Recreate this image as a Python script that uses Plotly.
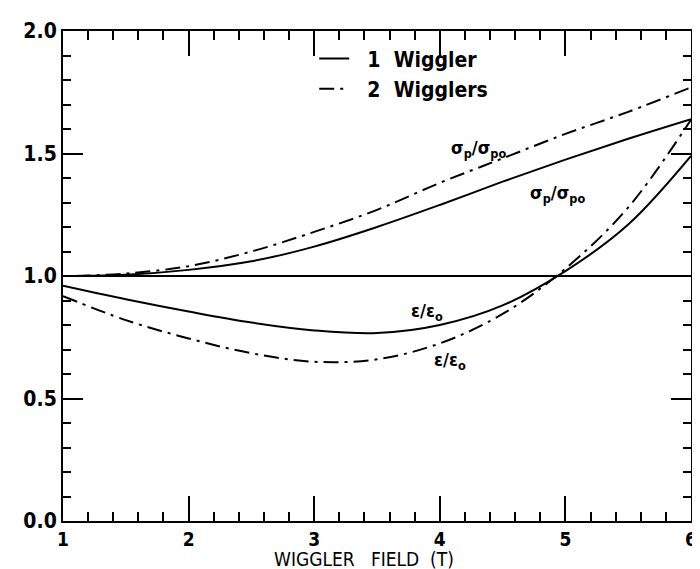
import plotly.graph_objects as go

# 1 wiggler, momentum spread ratio
x_sp1 = [1.1, 1.5, 2.0, 2.5, 3.0, 3.5, 4.0, 4.5, 5.0, 5.5, 6.0]
y_sp1 = [1.0, 1.005, 1.025, 1.06, 1.12, 1.20, 1.29, 1.385, 1.475, 1.56, 1.64]
# 2 wigglers, momentum spread ratio
x_sp2 = [1.1, 1.5, 2.0, 2.5, 3.0, 3.5, 4.0, 4.5, 5.0, 5.5, 6.0]
y_sp2 = [1.0, 1.01, 1.04, 1.10, 1.18, 1.27, 1.38, 1.48, 1.58, 1.67, 1.77]
# 1 wiggler, emittance ratio
x_e1 = [1.0, 1.5, 2.0, 2.5, 3.0, 3.5, 4.0, 4.5, 5.0, 5.5, 6.0]
y_e1 = [0.96, 0.905, 0.855, 0.81, 0.778, 0.767, 0.80, 0.88, 1.02, 1.21, 1.49]
# 2 wigglers, emittance ratio
x_e2 = [1.0, 1.5, 2.0, 2.5, 3.0, 3.5, 4.0, 4.5, 5.0, 5.5, 6.0]
y_e2 = [0.918, 0.82, 0.745, 0.685, 0.65, 0.66, 0.725, 0.845, 1.03, 1.28, 1.638]
# reference line
x_ref = [1.0, 6.0]
y_ref = [1.0, 1.0]

FONT = "DejaVu Sans Condensed, Liberation Sans Narrow, sans-serif"
DASHDOT = "15px,6px,3px,6px"

fig = go.Figure()
fig.add_trace(go.Scatter(x=x_ref, y=y_ref, mode="lines",
                         line=dict(color="black", width=2), showlegend=False))
fig.add_trace(go.Scatter(x=x_sp1, y=y_sp1, mode="lines", name="  1  Wiggler",
                         line=dict(color="black", width=2, shape="spline")))
fig.add_trace(go.Scatter(x=x_sp2, y=y_sp2, mode="lines", name="  2  Wigglers",
                         line=dict(color="black", width=2, dash=DASHDOT, shape="spline")))
fig.add_trace(go.Scatter(x=x_e1, y=y_e1, mode="lines", showlegend=False,
                         line=dict(color="black", width=2, shape="spline")))
fig.add_trace(go.Scatter(x=x_e2, y=y_e2, mode="lines", showlegend=False,
                         line=dict(color="black", width=2, dash=DASHDOT, shape="spline")))
# invisible trace on overlay axes for minor ticks
fig.add_trace(go.Scatter(x=x_ref, y=y_ref, xaxis="x2", yaxis="y2", mode="lines",
                         line=dict(color="rgba(0,0,0,0)"), showlegend=False, hoverinfo="skip"))

ann_font = dict(family=FONT, size=18, color="black", weight="bold")
fig.add_annotation(x=4.31, y=1.52, text="σ<sub>p</sub>/σ<sub>po</sub>", showarrow=False, font=ann_font)
fig.add_annotation(x=4.94, y=1.335, text="σ<sub>p</sub>/σ<sub>po</sub>", showarrow=False, font=ann_font)
fig.add_annotation(x=3.90, y=0.855, text="ε/ε<sub>o</sub>", showarrow=False, font=ann_font)
fig.add_annotation(x=4.08, y=0.652, text="ε/ε<sub>o</sub>", showarrow=False, font=ann_font)
fig.add_annotation(x=0.48, y=0, xref="paper", yref="paper", yshift=-51, yanchor="bottom",
                   text="WIGGLER   FIELD  (T)", showarrow=False,
                   font=dict(family=FONT, size=19, color="black"))

fig.update_layout(
    width=700, height=569,
    margin=dict(l=55, r=11, t=21, b=56),
    plot_bgcolor="white", paper_bgcolor="white",
    font=dict(family=FONT, color="black"),
    legend=dict(x=0.40, y=0.985, xanchor="left", yanchor="top",
                bgcolor="rgba(0,0,0,0)",
                font=dict(family=FONT, size=21, color="black", weight="bold"),
                tracegroupgap=4),
    xaxis=dict(range=[1, 6], dtick=1, tick0=1, showgrid=False, zeroline=False,
               showline=True, linecolor="black", linewidth=2, mirror="ticks",
               ticks="inside", ticklen=25, tickwidth=2, tickcolor="black",
               tickfont=dict(family=FONT, size=19, color="black", weight="bold")),
    yaxis=dict(range=[0, 2], dtick=0.5, tickformat=".1f", showgrid=False, zeroline=False,
               showline=True, linecolor="black", linewidth=2, mirror="ticks",
               ticks="inside", ticklen=20, tickwidth=2, tickcolor="black",
               tickfont=dict(family=FONT, size=21, color="black", weight="bold")),
    xaxis2=dict(range=[1, 6], dtick=0.2, tick0=1, overlaying="x", showgrid=False,
                zeroline=False, showline=False, mirror="ticks", ticks="inside",
                ticklen=9, tickwidth=1.5, tickcolor="black", showticklabels=False),
    yaxis2=dict(range=[0, 2], dtick=0.1, tick0=0, overlaying="y", showgrid=False,
                zeroline=False, showline=False, mirror="ticks", ticks="inside",
                ticklen=8, tickwidth=1.5, tickcolor="black", showticklabels=False),
)
fig.write_html("out.html")
